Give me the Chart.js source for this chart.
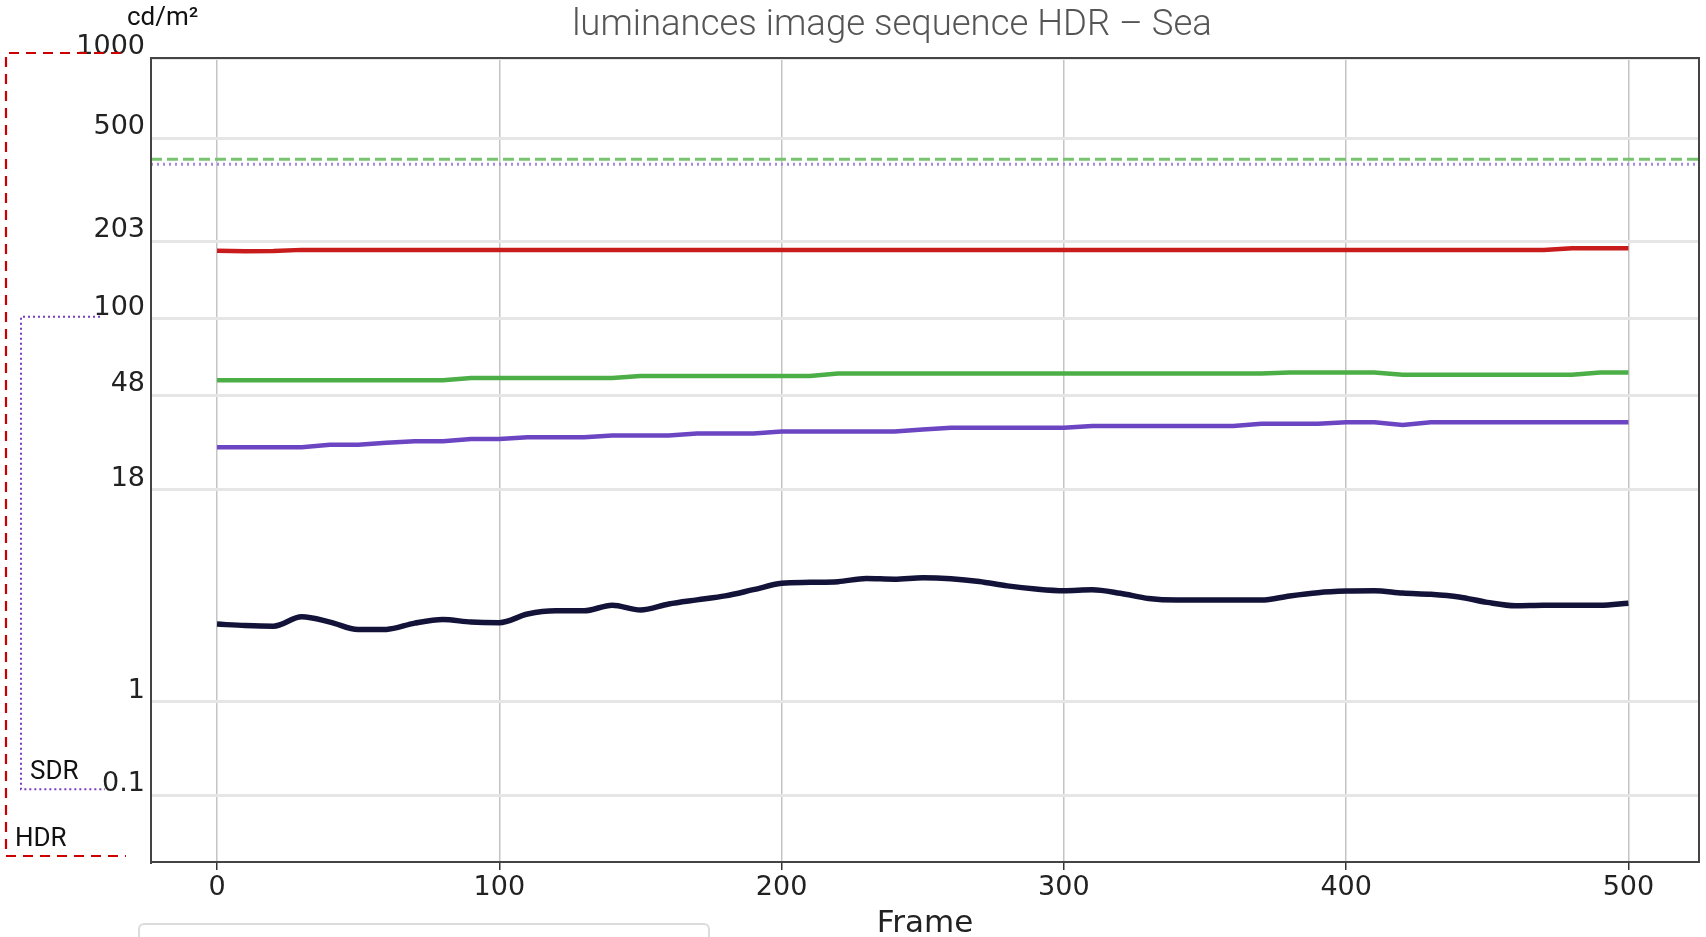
<!DOCTYPE html>
<html>
<head>
<meta charset="utf-8">
<title>luminances image sequence HDR – Sea</title>
<script src="https://cdn.jsdelivr.net/npm/chart.js@4.4.1/dist/chart.umd.min.js"></script>
<style>
    html, body { margin: 0; padding: 0; background: #fff; }
    body { width: 1706px; height: 937px; position: relative; overflow: hidden; font-family: Roboto, sans-serif; }
    #chart { position: absolute; left: 0; top: 0; }
    .lbl { position: absolute; line-height: 1; white-space: nowrap; }
    #title { left: 0; top: 5px; width: 1784px; text-align: center; font-size: 36.5px; font-weight: 300; color: #555; }
    #unit { left: 127px; top: 3px; font-size: 26px; color: #111; }
    #sdr { left: 30px; top: 757px; font-size: 26px; color: #111; }
    #hdr { left: 15px; top: 824px; font-size: 26px; color: #111; }
    #box { position: absolute; left: 138px; top: 923px; width: 568px; height: 40px; border: 2px solid #dcdcdc; border-radius: 6px; }
</style>
</head>
<body>
<canvas id="chart" width="1706" height="937"></canvas>
<div class="lbl" id="title">luminances image sequence HDR – Sea</div>
<div class="lbl" id="unit">cd/m²</div>
<div class="lbl" id="sdr">SDR</div>
<div class="lbl" id="hdr">HDR</div>
<div id="box"></div>
<script>
// frame numbers (sampled every 10 frames)
const frames = [0, 10, 20, 30, 40, 50, 60, 70, 80, 90,
    100, 110, 120, 130, 140, 150, 160, 170, 180, 190,
    200, 210, 220, 230, 240, 250, 260, 270, 280, 290,
    300, 310, 320, 330, 340, 350, 360, 370, 380, 390,
    400, 410, 420, 430, 440, 450, 460, 470, 480, 490, 500];

// luminances in cd/m2
const redLum = [186, 185, 185.5, 187.5, 187.5, 187.5, 187.5, 187.5, 187.5, 187.5,
    187.5, 187.5, 187.5, 187.5, 187.5, 187.5, 187.5, 187.5, 187.5, 187.5,
    187.5, 187.5, 187.5, 187.5, 187.5, 187.5, 187.5, 187.5, 187.5, 187.5,
    187.5, 187.5, 187.5, 187.5, 187.5, 187.5, 187.5, 187.5, 187.5, 187.5,
    187.5, 187.5, 187.5, 187.5, 187.5, 187.5, 187.5, 187.5, 190.4, 190.4, 190.4];
const greenLum = [55.6, 55.6, 55.6, 55.6, 55.6, 55.6, 55.6, 55.6, 55.6, 56.9,
    56.9, 56.9, 56.9, 56.9, 56.9, 58.0, 58.0, 58.0, 58.0, 58.0,
    58.0, 58.0, 59.4, 59.4, 59.4, 59.4, 59.4, 59.4, 59.4, 59.4,
    59.4, 59.4, 59.4, 59.4, 59.4, 59.4, 59.4, 59.4, 59.95, 59.95,
    59.95, 59.95, 58.7, 58.7, 58.7, 58.7, 58.7, 58.7, 58.7, 59.95, 59.95];
const purpleLum = [28.4, 28.4, 28.4, 28.4, 29.1, 29.1, 29.7, 30.2, 30.2, 30.9,
    30.9, 31.45, 31.45, 31.45, 32.0, 32.0, 32.0, 32.7, 32.7, 32.7,
    33.4, 33.4, 33.4, 33.4, 33.4, 34.1, 34.7, 34.7, 34.7, 34.7,
    34.7, 35.3, 35.3, 35.3, 35.3, 35.3, 35.3, 36.1, 36.1, 36.1,
    36.7, 36.7, 35.7, 36.7, 36.7, 36.7, 36.7, 36.7, 36.7, 36.7, 36.7];
const navyLum = [3.45, 3.38, 3.35, 3.82, 3.55, 3.19, 3.2, 3.5, 3.68, 3.55,
    3.52, 3.97, 4.15, 4.15, 4.48, 4.2, 4.55, 4.81, 5.07, 5.5,
    5.97, 6.05, 6.1, 6.35, 6.3, 6.42, 6.34, 6.12, 5.78, 5.55,
    5.43, 5.5, 5.25, 4.9, 4.8, 4.8, 4.8, 4.8, 5.07, 5.29,
    5.4, 5.43, 5.26, 5.18, 5.0, 4.65, 4.44, 4.47, 4.47, 4.47, 4.6];

// horizontal reference levels, cd/m2
const refGreen = 417;
const refPurple = 400;

// axes
const xMin = -23.4, xMax = 525;
const xTicks = [0, 100, 200, 300, 400, 500];
const yTicks = [0.1, 1, 18, 48, 100, 203, 500, 1000];
const yTickLabels = ['0.1', '1', '18', '48', '100', '203', '500', '1000'];

// SMPTE ST 2084 (PQ) encoding, the vertical axis is linear in PQ
function pq(nits) {
    const m1 = 2610 / 16384, m2 = 2523 / 4096 * 128;
    const c1 = 3424 / 4096, c2 = 2413 / 4096 * 32, c3 = 2392 / 4096 * 32;
    const p = Math.pow(nits / 10000, m1);
    return Math.pow((c1 + c2 * p) / (1 + c3 * p), m2);
}

const toPoints = (vals) => frames.map((f, i) => ({ x: f, y: pq(vals[i]) }));
const refPoints = (v) => [{ x: xMin, y: pq(v) }, { x: xMax, y: pq(v) }];

const frameBox = {
    id: 'frameBox',
    afterDraw(chart) {
        const { ctx, chartArea: a, scales: { y } } = chart;
        ctx.save();
        ctx.strokeStyle = '#444';
        ctx.lineWidth = 2;
        ctx.strokeRect(a.left, a.top, a.right - a.left, a.bottom - a.top);

        // HDR range bracket
        const hTop = y.getPixelForValue(pq(1000)) - 5;
        const hBot = a.bottom - 6;
        ctx.strokeStyle = '#cc0000';
        ctx.lineWidth = 2.2;
        ctx.setLineDash([10, 7]);
        ctx.beginPath();
        ctx.moveTo(121, hTop);
        ctx.lineTo(6, hTop);
        ctx.lineTo(6, hBot);
        ctx.lineTo(126, hBot);
        ctx.stroke();

        // SDR range bracket
        const sTop = y.getPixelForValue(pq(100)) - 2;
        const sBot = y.getPixelForValue(pq(0.1)) - 6;
        ctx.strokeStyle = '#7a3cc4';
        ctx.lineWidth = 2;
        ctx.setLineDash([2, 3]);
        ctx.beginPath();
        ctx.moveTo(100, sTop);
        ctx.lineTo(21, sTop);
        ctx.lineTo(21, sBot);
        ctx.lineTo(105, sBot);
        ctx.stroke();
        ctx.restore();
    }
};

const tickFont = { family: 'DejaVu Sans', size: 27 };

new Chart(document.getElementById('chart'), {
    type: 'line',
    data: {
        datasets: [
            { data: refPoints(refGreen), borderColor: '#77c46f', borderWidth: 3, borderDash: [11, 5], pointRadius: 0 },
            { data: refPoints(refPurple), borderColor: '#a68ae0', borderWidth: 3, borderDash: [2, 4], pointRadius: 0 },
            { data: toPoints(redLum), borderColor: '#c81c1c', borderWidth: 4.5, pointRadius: 0 },
            { data: toPoints(greenLum), borderColor: '#4cae47', borderWidth: 4.5, pointRadius: 0 },
            { data: toPoints(purpleLum), borderColor: '#6c45c2', borderWidth: 4.5, pointRadius: 0 },
            { data: toPoints(navyLum), borderColor: '#13133a', borderWidth: 5.5, pointRadius: 0, cubicInterpolationMode: 'monotone' }
        ]
    },
    options: {
        responsive: false,
        animation: false,
        layout: { padding: { left: 0, right: 7, top: 58, bottom: 0 } },
        plugins: { legend: { display: false }, title: { display: false }, tooltip: { enabled: false } },
        scales: {
            x: {
                type: 'linear', min: xMin, max: xMax,
                afterBuildTicks: (s) => { s.ticks = xTicks.map(v => ({ value: v })); },
                afterFit: (s) => { s.height = 75; },
                grid: { color: '#c4c4c4', lineWidth: 1.5, tickColor: '#333', tickLength: 8, tickWidth: 1.5 },
                border: { color: '#444', width: 2 },
                ticks: { font: tickFont, color: '#222', padding: 2, maxRotation: 0, autoSkip: false },
                title: { display: true, text: 'Frame', font: { family: 'DejaVu Sans', size: 31, lineHeight: 0.85 }, color: '#222', padding: 0 }
            },
            y: {
                type: 'linear', min: 0, max: pq(1000),
                afterBuildTicks: (s) => { s.ticks = yTicks.map(v => ({ value: pq(v) })); },
                afterFit: (s) => { s.width = 151; },
                grid: { color: '#e6e6e6', lineWidth: 3, drawTicks: false },
                border: { color: '#444', width: 2 },
                ticks: {
                    font: tickFont, color: '#222', padding: 6, labelOffset: -11, autoSkip: false,
                    callback: (v, i) => yTickLabels[i]
                }
            }
        }
    },
    plugins: [frameBox]
});
</script>
</body>
</html>
